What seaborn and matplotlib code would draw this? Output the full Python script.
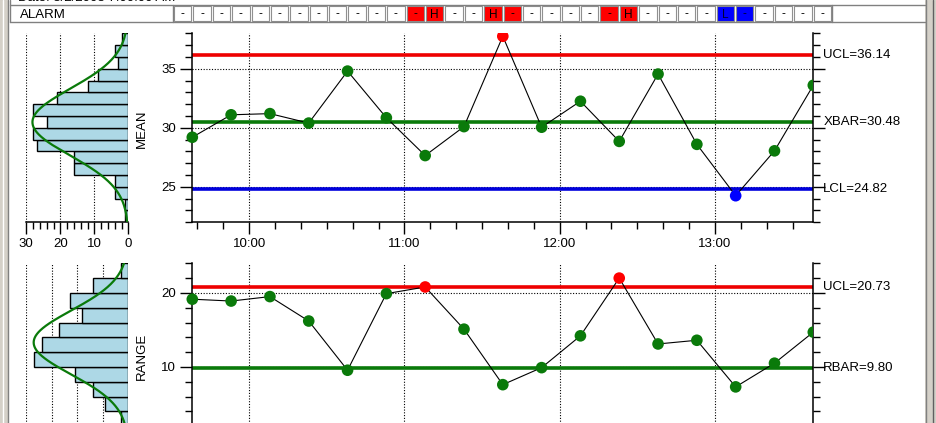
import numpy as np
import pandas as pd
import matplotlib
matplotlib.use("Agg")
import matplotlib.pyplot as plt
import matplotlib.transforms as mtransforms
from matplotlib.patches import Rectangle
from matplotlib.ticker import MultipleLocator, FixedLocator, FuncFormatter
import seaborn as sns

# ---------------- data ----------------
times = ["09:38", "09:53", "10:08", "10:23", "10:38", "10:53", "11:08", "11:23", "11:38",
         "11:53", "12:08", "12:23", "12:38", "12:53", "13:08", "13:23", "13:38"]
mean_values = [29.2, 31.1, 31.2, 30.4, 34.8, 30.85, 27.65, 30.1, 37.75,
               30.05, 32.25, 28.85, 34.55, 28.6, 24.25, 28.05, 33.6]
range_values = [19.15, 18.9, 19.5, 16.2, 9.55, 19.9, 20.8, 15.1, 7.6,
                9.9, 14.2, 22.0, 13.1, 13.6, 7.3, 10.5, 14.7]

mean_ucl, mean_center, mean_lcl = 36.14, 30.48, 24.82
range_ucl, range_center = 20.73, 9.80
mean_limit_labels = ["UCL=36.14", "XBAR=30.48", "LCL=24.82"]
range_limit_labels = ["UCL=20.73", "RBAR=9.80"]

# frequency histograms (bottom bin first)
mean_hist_edges = [22, 23, 24, 25, 26, 27, 28, 29, 30, 31, 32, 33, 34, 35, 36, 37, 38]
mean_hist_counts = [1, 1, 4, 4, 16, 16, 27, 28, 24, 28, 21, 12, 9, 3, 4, 2]
range_hist_edges = [0, 2, 4, 6, 8, 10, 12, 14, 16, 18, 20, 22, 24]
range_hist_counts = [1, 3, 9, 14, 21, 37, 34, 27, 18, 23, 14, 3]

# fitted normal curves (mu, sigma, sample count)
mean_fit = (30.48, 2.83, 200)
range_fit = (13.3, 4.3, 200)

hour_ticks = ["10:00", "11:00", "12:00", "13:00"]

# ---------------- helpers ----------------
W, H = 936, 423
DPI = 100


def to_min(s):
    h, m = s.split(":")
    return int(h) * 60 + int(m)


def rect(l, t, r, b):
    return [l / W, 1 - b / H, (r - l) / W, (b - t) / H]


mins = [to_min(t) for t in times]
df = pd.DataFrame({"time": mins, "mean": mean_values, "range": range_values})
df["mean_status"] = np.where(df["mean"] > mean_ucl, "high",
                             np.where(df["mean"] < mean_lcl, "low", "ok"))
df["range_status"] = np.where(df["range"] > range_ucl, "high", "ok")

palette = {"ok": "#0a7a0a", "high": "#ff0000", "low": "#0000ff"}
GREEN = "#0a7a0a"

sns.set_theme(style="white")
plt.rcParams["font.family"] = ["Liberation Sans", "DejaVu Sans"]
plt.rcParams["font.size"] = 9.5

fig = plt.figure(figsize=(W / DPI, H / DPI), dpi=DPI)
fig.patch.set_facecolor("white")

# background frame axes (pixel coordinates)
bg = fig.add_axes([0, 0, 1, 1], zorder=-5)
bg.set_xlim(0, W)
bg.set_ylim(H, 0)
bg.axis("off")

# window borders
bg.add_patch(Rectangle((0, 0), 8, H, facecolor="#d4d0c8", edgecolor="none"))
bg.plot([7.5, 7.5], [0, H], color="#808080", lw=1)
bg.plot([2.5, 2.5], [0, H], color="#ffffff", lw=1)
bg.add_patch(Rectangle((925, 0), 11, H, facecolor="#d4d0c8", edgecolor="none"))
bg.plot([926, 926], [0, H], color="#808080", lw=1)
bg.plot([933, 933], [0, H], color="#606060", lw=1)

# alarm table
bg.text(18, 4, "Date: 3/2/2003 7:00:00 AM", fontsize=9.5, va="bottom", ha="left", color="black")
bg.plot([10, 925], [5.5, 5.5], color="#808080", lw=1)
bg.plot([10, 925], [22.5, 22.5], color="#808080", lw=1)
bg.plot([10, 10], [0, 22.5], color="#808080", lw=1)
bg.plot([173, 173], [5.5, 22.5], color="#808080", lw=1)
bg.text(20, 14.5, "ALARM", fontsize=9.5, va="center", ha="left", color="black")
cell_w = (832 - 173) / (2 * len(df))
for i, row in df.iterrows():
    m_txt = {"high": "H", "low": "L", "ok": "-"}[row["mean_status"]]
    r_txt = {"high": "H", "ok": "-"}[row["range_status"]]
    if row["mean_status"] == "high" or row["range_status"] == "high":
        fc = "#ff0000"
    elif row["mean_status"] == "low":
        fc = "#0000ff"
    else:
        fc = "white"
    for j, txt in enumerate([m_txt, r_txt]):
        x0 = 173 + (2 * i + j) * cell_w + 1
        bg.add_patch(Rectangle((x0, 6.5), cell_w - 2, 15, facecolor=fc,
                               edgecolor="#909090", lw=0.8))
        bg.text(x0 + (cell_w - 2) / 2, 14.5, txt, ha="center", va="center",
                fontsize=8.5, color="black" if fc != "#0000ff" else "#000033")
bg.plot([832, 832], [5.5, 22.5], color="#808080", lw=1)

# ---------------- axes ----------------
ax_m = fig.add_axes(rect(192.3, 33.3, 813.3, 222.3))
ax_mh = fig.add_axes(rect(26.3, 33.3, 128.3, 222.3))
ax_r = fig.add_axes(rect(192.3, 263.3, 813.3, 440.9))
ax_rh = fig.add_axes(rect(26.3, 263.3, 128.3, 440.9))

xmin, xmax = mins[0], mins[-1]
hour_mins = [to_min(t) for t in hour_ticks]


def fmt_time(v, pos=None):
    v = int(round(v))
    return f"{v // 60}:{v % 60:02d}"


def style_chart(ax, ylim, minor_step, major_ticks, yfmt):
    ax.set_xlim(xmin, xmax)
    ax.set_ylim(*ylim)
    ax.set_facecolor("white")
    for side in ["left", "right", "bottom"]:
        ax.spines[side].set_visible(True)
        ax.spines[side].set_color("black")
        ax.spines[side].set_linewidth(1.1)
    ax.spines["top"].set_visible(False)
    ax.xaxis.set_major_locator(FixedLocator(hour_mins))
    ax.xaxis.set_minor_locator(MultipleLocator(10))
    ax.xaxis.set_major_formatter(FuncFormatter(fmt_time))
    ax.yaxis.set_major_locator(FixedLocator(major_ticks))
    ax.yaxis.set_minor_locator(MultipleLocator(minor_step))
    ax.yaxis.set_major_formatter(FuncFormatter(yfmt))
    ax.tick_params(axis="both", which="major", direction="out", length=8.5, width=1,
                   color="black", labelsize=9.5, labelcolor="black", pad=3)
    ax.tick_params(axis="both", which="minor", direction="out", length=4.7, width=1,
                   color="black")
    ax.tick_params(axis="y", which="both", left=True, right=True, labelright=False)
    ax.tick_params(axis="x", which="both", bottom=True, top=False)
    ax.grid(False)
    for v in major_ticks:
        ax.axhline(v, color="black", ls=(0, (1, 1.5)), lw=0.8, zorder=1)
    for v in hour_mins:
        ax.axvline(v, color="black", ls=(0, (1, 1.5)), lw=0.8, zorder=1)


style_chart(ax_m, (22, 38), 1, [25, 30, 35], lambda v, p: f"{v:.0f}")
style_chart(ax_r, (0, 24), 2, [10, 20], lambda v, p: f"{v:.0f}")


def draw_series(ax, col, status_col, limits, colors, labels):
    for v, c in zip(limits, colors):
        ax.axhline(v, color=c, lw=2.6, zorder=2, solid_capstyle="butt")
    sns.lineplot(data=df, x="time", y=col, ax=ax, color="black", lw=0.8,
                 zorder=3, legend=False)
    sns.scatterplot(data=df, x="time", y=col, hue=status_col, palette=palette,
                    s=70, edgecolor="none", linewidth=0, ax=ax, zorder=4,
                    legend=False)
    clip = Rectangle((-0.05, -0.2), 1.05, 1.2, transform=ax.transAxes,
                     facecolor="none", edgecolor="none")
    ax.add_patch(clip)
    for coll in ax.collections:
        coll.set_clip_path(clip)
    trans = mtransforms.blended_transform_factory(ax.transAxes, ax.transData)
    for v, lab in zip(limits, labels):
        ax.text(1.0161, v, lab, transform=trans, ha="left", va="center",
                fontsize=9.5, color="black")
    ax.set_xlabel("")


draw_series(ax_m, "mean", "mean_status", [mean_ucl, mean_center, mean_lcl],
            ["#ee0000", GREEN, "#0000dd"], mean_limit_labels)
draw_series(ax_r, "range", "range_status", [range_ucl, range_center],
            ["#ee0000", GREEN], range_limit_labels)

ax_m.set_ylabel("MEAN", fontsize=9.5, color="black")
ax_m.yaxis.set_label_coords((148 - 192.3) / 621.0, (222.3 - 129) / 189.0)
ax_r.set_ylabel("RANGE", fontsize=9.5, color="black")
ax_r.yaxis.set_label_coords((148 - 192.3) / 621.0, (440.9 - 356.7) / 177.6)
ax_r.tick_params(axis="x", which="both", labelbottom=False)


# ---------------- histograms ----------------
def draw_hist(ax, edges, counts, fit, xmax_count, ylim, xmaj, xmin_step, show_labels):
    edges = np.asarray(edges, float)
    centers = (edges[:-1] + edges[1:]) / 2
    observations = np.repeat(centers, counts)
    sns.histplot(y=observations, bins=list(edges), ax=ax, color="#add8e6",
                 edgecolor="black", linewidth=1.0, alpha=1.0, zorder=2)
    mu, sigma, n = fit
    bw = edges[1] - edges[0]
    yy = np.linspace(ylim[0], ylim[1], 300)
    xx = n * bw / (sigma * np.sqrt(2 * np.pi)) * np.exp(-0.5 * ((yy - mu) / sigma) ** 2)
    ax.plot(xx, yy, color=GREEN, lw=1.6, zorder=3)
    ax.set_xlim(xmax_count, 0)
    ax.set_ylim(*ylim)
    for s in ["left", "top", "right"]:
        ax.spines[s].set_visible(False)
    ax.spines["bottom"].set_visible(True)
    ax.spines["bottom"].set_color("black")
    ax.spines["bottom"].set_linewidth(1.1)
    ax.set_yticks([])
    ax.xaxis.set_major_locator(FixedLocator(xmaj))
    ax.xaxis.set_minor_locator(MultipleLocator(xmin_step))
    ax.xaxis.set_major_formatter(FuncFormatter(lambda v, p: f"{v:.0f}"))
    ax.tick_params(axis="x", which="major", direction="out", length=8.5, width=1,
                   color="black", labelsize=9.5, labelcolor="black", pad=3, bottom=True,
                   labelbottom=show_labels)
    ax.tick_params(axis="x", which="minor", direction="out", length=4.7, width=1,
                   color="black", bottom=True)
    ax.grid(False)
    for v in xmaj:
        ax.axvline(v, color="black", ls=(0, (1, 1.5)), lw=0.8, zorder=1)
    ax.set_xlabel("")
    ax.set_ylabel("")
    ax.set_facecolor("white")


draw_hist(ax_mh, mean_hist_edges, mean_hist_counts, mean_fit, 30, (22, 38),
          [0, 10, 20, 30], 2, True)
draw_hist(ax_rh, range_hist_edges, range_hist_counts, range_fit, 40, (0, 24),
          [0, 10, 20, 30, 40], 2, False)

fig.savefig("out.png", dpi=DPI, facecolor="white")
